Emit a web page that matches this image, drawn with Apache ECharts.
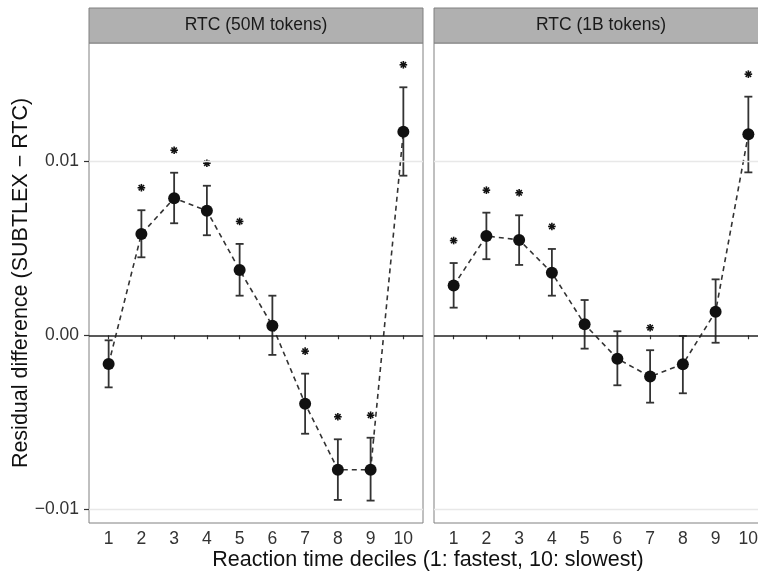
<!DOCTYPE html>
<html>
<head>
<meta charset="utf-8">
<title>Residual difference by reaction time decile</title>
<script src="https://cdn.jsdelivr.net/npm/echarts@6/dist/echarts.min.js"></script>
<style>
  html, body { margin: 0; padding: 0; background: #fff; }
  #chart { width: 758px; height: 574px; }
</style>
</head>
<body>
<div id="chart"></div>
<script>
// ---- data ----
const deciles = [1, 2, 3, 4, 5, 6, 7, 8, 9, 10]
const yTicks = [-0.01, 0, 0.01]
const panelTitles = ['RTC (50M tokens)', 'RTC (1B tokens)']

const mean50M = [-0.00165, 0.00583, 0.00789, 0.00717, 0.00376, 0.00055, -0.00394, -0.00774, -0.00774, 0.01172]
const lo50M = [-0.0030, 0.00449, 0.00645, 0.00576, 0.00228, -0.00113, -0.00567, -0.00948, -0.00952, 0.00919]
const hi50M = [-0.00029, 0.0072, 0.00936, 0.00861, 0.00526, 0.00228, -0.00221, -0.00599, -0.0059, 0.01428]
const sig50M = [0, 1, 1, 1, 1, 0, 1, 1, 1, 1]

const mean1B = [0.00286, 0.00572, 0.00549, 0.0036, 0.00063, -0.00135, -0.00238, -0.00167, 0.00136, 0.01157]
const lo1B = [0.00159, 0.00438, 0.00405, 0.00228, -0.00077, -0.00288, -0.00388, -0.00334, -0.00043, 0.00938]
const hi1B = [0.00416, 0.00706, 0.00691, 0.00497, 0.00203, 0.00023, -0.00086, -0.00004, 0.00322, 0.01374]
const sig1B = [1, 1, 1, 1, 0, 0, 1, 0, 0, 1]

const panels = [
  { mean: mean50M, lo: lo50M, hi: hi50M, sig: sig50M },
  { mean: mean1B, lo: lo1B, hi: hi1B, sig: sig1B },
]

// ---- layout / style ----
const FONT = "'Liberation Sans', Arial, Helvetica, sans-serif"
const gridLefts = [89, 434]
const GRID_TOP = 43
const GRID_W = 334
const GRID_H = 480

const chart = echarts.init(document.getElementById('chart'), null, { renderer: 'canvas' })

const fmtY = (v) => (v < 0 ? '\u2212' : '') + Math.abs(v).toFixed(2)

// error bar + cap + significance asterisk
function renderErrorBar(params, api) {
  const x = api.value(0)
  const top = api.coord([x, api.value(2)])
  const bot = api.coord([x, api.value(1)])
  const cap = 4
  const style = { stroke: '#333', lineWidth: 1.8 }
  const children = [
    { type: 'line', shape: { x1: top[0], y1: top[1], x2: bot[0], y2: bot[1] }, style },
    { type: 'line', shape: { x1: top[0] - cap, y1: top[1], x2: top[0] + cap, y2: top[1] }, style },
    { type: 'line', shape: { x1: bot[0] - cap, y1: bot[1], x2: bot[0] + cap, y2: bot[1] }, style },
  ]
  if (api.value(3)) {
    const cx = top[0]
    const cy = top[1] - 22.5
    const r = 3.8
    const st = { stroke: '#111', lineWidth: 1.6 }
    for (let k = 0; k < 4; k++) {
      const a = (k * Math.PI) / 4
      children.push({
        type: 'line',
        shape: { x1: cx - r * Math.cos(a), y1: cy - r * Math.sin(a), x2: cx + r * Math.cos(a), y2: cy + r * Math.sin(a) },
        style: st,
      })
    }
  }
  return { type: 'group', children }
}

const grids = gridLefts.map((left) => ({
  left,
  top: GRID_TOP,
  width: GRID_W,
  height: GRID_H,
  show: true,
  backgroundColor: '#fff',
  borderColor: '#808080',
  borderWidth: 1,
  containLabel: false,
  outerBoundsMode: 'none',
}))

const xAxes = gridLefts.map((_, i) => ({
  type: 'value',
  gridIndex: i,
  min: 0.4,
  max: 10.6,
  axisLine: { show: false },
  axisTick: { show: true, length: 4, customValues: deciles, lineStyle: { color: '#333', width: 1.2 } },
  axisLabel: { show: true, customValues: deciles, margin: 7, color: '#333', fontSize: 17.5, fontFamily: FONT },
  splitLine: { show: false },
}))

const yAxes = gridLefts.map((_, i) => ({
  type: 'value',
  gridIndex: i,
  min: -0.01081,
  max: 0.01683,
  axisLine: { show: false },
  axisTick: { show: i === 0, length: 5, customValues: yTicks, lineStyle: { color: '#333', width: 1.2 } },
  axisLabel: {
    show: i === 0,
    customValues: yTicks,
    margin: 10,
    color: '#333',
    fontSize: 17.5,
    fontFamily: FONT,
    formatter: fmtY,
  },
  splitLine: { show: false },
}))

const series = []
panels.forEach((p, i) => {
  // reference lines
  series.push({
    type: 'line',
    xAxisIndex: i,
    yAxisIndex: i,
    data: [],
    z: 1,
    silent: true,
    markLine: {
      silent: true,
      symbol: 'none',
      label: { show: false },
      animation: false,
      data: [
        { yAxis: yTicks[0], lineStyle: { color: '#e8e8e8', width: 1.3, type: 'solid' } },
        { yAxis: yTicks[2], lineStyle: { color: '#e8e8e8', width: 1.3, type: 'solid' } },
        { yAxis: 0, lineStyle: { color: '#222', width: 1.5, type: 'solid' } },
      ],
    },
  })
  // dashed connecting line
  series.push({
    type: 'line',
    xAxisIndex: i,
    yAxisIndex: i,
    data: deciles.map((d, k) => [d, p.mean[k]]),
    symbol: 'none',
    z: 2,
    lineStyle: { color: '#333', width: 1.6, type: [5, 4] },
  })
  // error bars + asterisks
  series.push({
    type: 'custom',
    xAxisIndex: i,
    yAxisIndex: i,
    data: deciles.map((d, k) => [d, p.lo[k], p.hi[k], p.sig[k]]),
    renderItem: renderErrorBar,
    z: 3,
    clip: false,
  })
  // points
  series.push({
    type: 'scatter',
    xAxisIndex: i,
    yAxisIndex: i,
    data: deciles.map((d, k) => [d, p.mean[k]]),
    symbol: 'circle',
    symbolSize: 12,
    itemStyle: { color: '#111', opacity: 1 },
    z: 4,
  })
})

// facet strips and axis titles
const graphic = []
gridLefts.forEach((left, i) => {
  graphic.push({
    type: 'rect',
    shape: { x: left, y: 8, width: GRID_W, height: GRID_TOP - 8 },
    style: { fill: '#b0b0b0', stroke: '#808080', lineWidth: 1 },
    z: 10,
  })
  graphic.push({
    type: 'text',
    x: left + GRID_W / 2,
    y: 8 + (GRID_TOP - 8) / 2,
    style: {
      text: panelTitles[i],
      font: `17.5px ${FONT}`,
      fill: '#1a1a1a',
      textAlign: 'center',
      textVerticalAlign: 'middle',
    },
    z: 11,
  })
})
graphic.push({
  type: 'text',
  x: 428,
  y: 560,
  style: {
    text: 'Reaction time deciles (1: fastest, 10: slowest)',
    font: `21.5px ${FONT}`,
    fill: '#111',
    textAlign: 'center',
    textVerticalAlign: 'middle',
  },
})
graphic.push({
  type: 'text',
  x: 21,
  y: 283,
  rotation: Math.PI / 2,
  style: {
    text: 'Residual difference (SUBTLEX \u2212 RTC)',
    font: `21.5px ${FONT}`,
    fill: '#111',
    textAlign: 'center',
    textVerticalAlign: 'middle',
  },
})

chart.setOption({
  animation: false,
  backgroundColor: '#fff',
  grid: grids,
  xAxis: xAxes,
  yAxis: yAxes,
  series,
  graphic,
})

window.addEventListener('resize', () => chart.resize())
</script>
</body>
</html>
